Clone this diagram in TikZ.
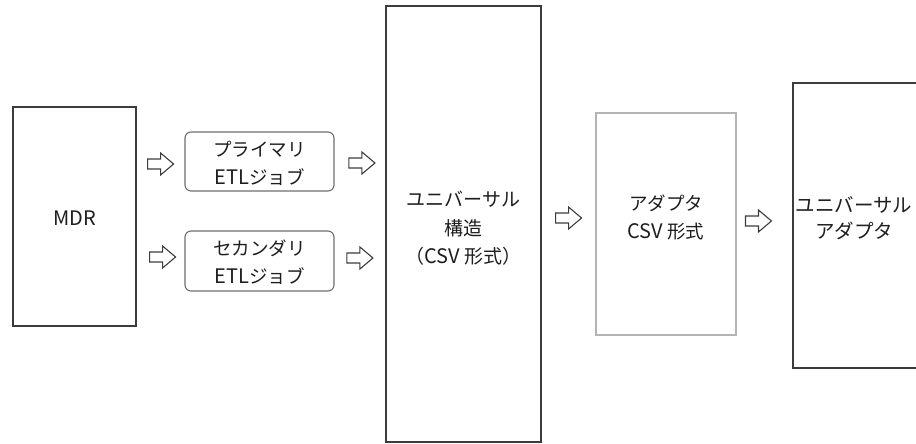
\documentclass[tikz,border=0pt]{standalone}
\usepackage{fontspec}
\newfontfamily\jp{Noto Sans CJK JP}
\usetikzlibrary{calc}
\definecolor{boxdark}{HTML}{3C3C3C}
\definecolor{boxlight}{HTML}{B4B4B4}
\definecolor{boxmid}{HTML}{6E6E6E}
\definecolor{txt}{HTML}{1E1E1E}
\newcommand{\lat}[1]{{\fontsize{20}{28}\selectfont #1}}
\tikzset{
  bigbox/.style={draw=boxdark, line width=1.4pt, fill=white, inner sep=0pt},
  lightbox/.style={draw=boxlight, line width=1.2pt, fill=white, inner sep=0pt},
  jobbox/.style={draw=boxmid, line width=1.1pt, rounded corners=6pt, fill=white, inner sep=0pt},
  lbl/.style={font=\jp\fontsize{18.5}{28}\selectfont, text=txt, align=center, inner sep=0pt},
  arrowline/.style={draw=boxdark, line width=1.1pt, fill=white, line join=miter},
  blockarrow/.pic={\draw[arrowline] (-13,-5) -- (0,-5) -- (0,-11) -- (13,0) -- (0,11) -- (0,5) -- (-13,5) -- cycle;}
}
\begin{document}
\begin{tikzpicture}[x=1pt,y=-1pt]
\useasboundingbox (0,0) rectangle (916,444);
% boxes
\node[bigbox, minimum width=123pt, minimum height=219pt] (mdr) at (74.5,216.5) {};
\node[jobbox, minimum width=149pt, minimum height=59pt] (p1) at (259.5,161.5) {};
\node[jobbox, minimum width=149pt, minimum height=60pt] (p2) at (259.5,261) {};
\node[bigbox, minimum width=155pt, minimum height=436pt] (ctr) at (463.5,224) {};
\node[lightbox, minimum width=140pt, minimum height=222pt] (ad) at (666,224) {};
\node[bigbox, minimum width=126pt, minimum height=285pt] (ua) at (856,225.5) {};
% labels
\node[lbl] (mdrl) at (74.5,218) {\lat{MDR}};
\node[lbl] (p1l) at (259.5,163) {プライマリ\\\lat{ETL}ジョブ};
\node[lbl] (p2l) at (259.5,262) {セカンダリ\\\lat{ETL}ジョブ};
\node[lbl, font=\jp\fontsize{19}{28.5}\selectfont] (ctrl) at (463.5,228.5) {ユニバーサル\\構造\\（\lat{CSV} 形式）};
\node[lbl] (adl) at (666,217) {アダプタ\\\lat{CSV} 形式};
\node[lbl, font=\jp\fontsize{19.5}{26}\selectfont] (ual) at (854,218) {ユニバーサル\\アダプタ};
% block arrows
\pic (a1) at ($(mdr.east |- p1.west)!0.5!(p1.west)+(0,2.5)$) {blockarrow};
\pic (a2) at ($(mdr.east |- p2.west)!0.5!(p2.west)+(2,-4)$) {blockarrow};
\pic (a3) at ($(p1.east)!0.5!(ctr.west |- p1.east)+(2,1.5)$) {blockarrow};
\pic (a4) at ($(p2.east)!0.5!(ctr.west |- p2.east)+(0,-3)$) {blockarrow};
\pic (a5) at ($(ctr.east |- adl)!0.5!(ad.west |- adl)+(0,1)$) {blockarrow};
\pic (a6) at ($(ad.east |- adl)!0.5!(ua.west |- adl)+(-6,4)$) {blockarrow};
\end{tikzpicture}
\end{document}
